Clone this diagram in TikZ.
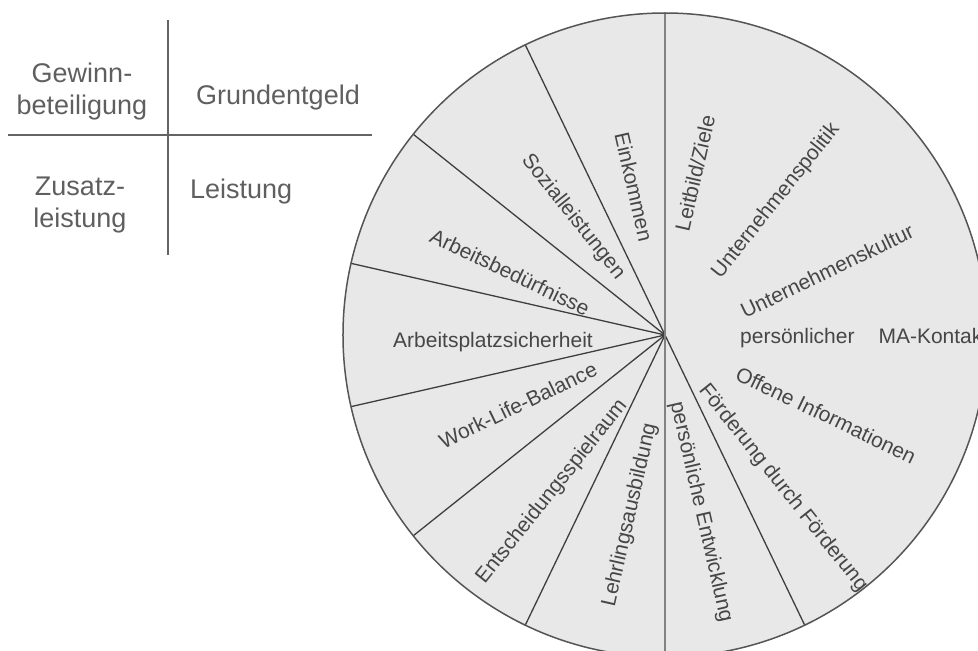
\documentclass[tikz,border=0pt]{standalone}
\usepackage{fontspec}
\setmainfont{Liberation Sans}

\definecolor{wheelfill}{RGB}{232,232,232}
\definecolor{spokegray}{RGB}{62,62,62}
\definecolor{rimgray}{RGB}{85,85,85}
\definecolor{axisgray}{RGB}{130,130,130}
\definecolor{labelgray}{RGB}{70,70,70}
\definecolor{tablegray}{RGB}{95,95,95}
\definecolor{tablelinegray}{RGB}{100,100,100}

\begin{document}
\begin{tikzpicture}[x=1pt,y=1pt,
  wheeltext/.style={font=\fontsize{21}{25}\selectfont, text=labelgray, inner sep=0pt},
  tabletext/.style={font=\fontsize{27}{32}\selectfont, text=tablegray, inner sep=0pt, align=center},
  spoke/.style={draw=spokegray, line width=1.3pt},
  rim/.style={draw=rimgray, line width=1.5pt},
  axisline/.style={draw=axisgray, line width=2.6pt},
  tabline/.style={draw=tablelinegray, line width=1.4pt}]

% page frame: the wheel is cut by the right and bottom edges
\useasboundingbox (-665,-316) rectangle (313,335);
\clip (-665,-316) rectangle (313,335);

% ---- pay components cross ----
\coordinate (vtop) at (-497,315);
\coordinate (vbot) at (-497,80);
\coordinate (hleft) at (-657,200);
\coordinate (hright) at (-293,200);
\draw[tabline] (vtop) -- (vbot);
\draw[tabline] (hleft) -- (hright);
\node[tabletext] (gewinn) at (-583,243) {Gewinn-\\beteiligung};
\node[tabletext] (grund) at (-387,237) {Grundentgeld};
\node[tabletext] (zusatz) at (-585,130) {Zusatz-\\leistung};
\node[tabletext, anchor=west] (leistung) at (-475,143) {Leistung};

% ---- wheel ----
\coordinate (c) at (0,0);
\def\rad{322}
\fill[wheelfill] (c) circle (\rad);
\foreach \k in {1,...,6,8,...,13}
  \draw[spoke] (c) -- (90+\k*360/14:\rad);
\coordinate (atop) at (0,\rad);
\coordinate (abot) at (0,-\rad);
\draw[axisline] (atop) -- (abot);
\draw[rim] (c) circle (\rad);

% sector labels
\node[wheeltext, rotate=-77.14] (l1)  at (-31,148)  {Einkommen};
\node[wheeltext, rotate=77.14]  (l2)  at (30,162)   {Leitbild/Ziele};
\node[wheeltext, rotate=51.43]  (l3)  at (111,134)  {Unternehmenspolitik};
\node[wheeltext, rotate=25.71]  (l4)  at (162,64)   {Unternehmenskultur};
\node[wheeltext, anchor=west]   (l5)  at (75,-3)    {persönlicher\hspace{24pt}MA-Kontakt};
\node[wheeltext, rotate=-25.71] (l6)  at (161,-80)  {Offene Informationen};
\node[wheeltext, rotate=-51.43] (l7)  at (118,-153) {Förderung durch Förderung};
\node[wheeltext, rotate=-77.14] (l8)  at (36,-177)  {persönliche Entwicklung};
\node[wheeltext, rotate=77.14]  (l9)  at (-35,-180) {Lehrlingsausbildung};
\node[wheeltext, rotate=51.43]  (l10) at (-113,-157){Entscheidungsspielraum};
\node[wheeltext, rotate=25.71]  (l11) at (-147,-70) {Work-Life-Balance};
\node[wheeltext]                (l12) at (-172,-7)  {Arbeitsplatzsicherheit};
\node[wheeltext, rotate=-25.71] (l13) at (-155,63)  {Arbeitsbedürfnisse};
\node[wheeltext, rotate=-51.43] (l14) at (-92,118)  {Sozialleistungen};
\end{tikzpicture}
\end{document}
